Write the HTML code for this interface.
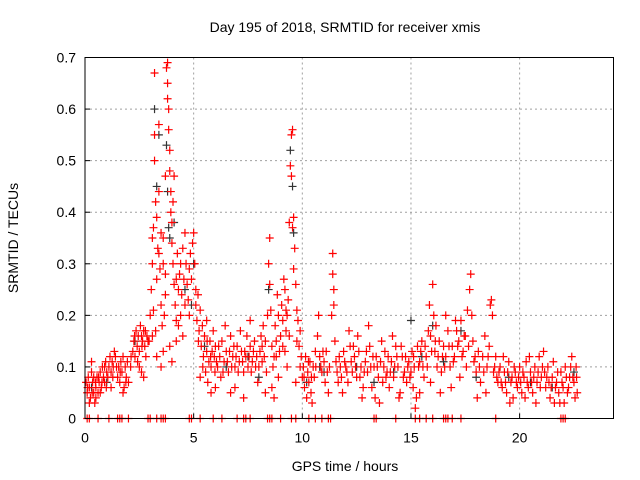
<!DOCTYPE html>
<html><head><meta charset="utf-8"><style>
html,body{margin:0;padding:0;background:#fff;}
svg{display:block;font-family:"Liberation Sans",sans-serif;}
</style></head><body>
<svg id="chart" width="640" height="480" viewBox="0 0 640 480">
<rect x="0" y="0" width="640" height="480" fill="#fff"/>
<text x="345" y="32" font-size="14" text-anchor="middle" fill="#000">Day 195 of 2018, SRMTID for receiver xmis</text>
<text x="345" y="471" font-size="14" text-anchor="middle" fill="#000">GPS time / hours</text>
<text transform="translate(18,238) rotate(-90)" font-size="14" text-anchor="middle" fill="#000">SRMTID / TECUs</text>
<g id="grid"></g>
<g id="black"></g>
<g id="red"></g>
<g id="axes"></g>
</svg>
<script>
const xTicks = [0, 5, 10, 15, 20];
const yTicks = [0, 0.1, 0.2, 0.3, 0.4, 0.5, 0.6, 0.7];
const yTickLabels = ["0", "0.1", "0.2", "0.3", "0.4", "0.5", "0.6", "0.7"];
const xDomain = [0, 24.32];
const yDomain = [0, 0.7];

const redZeroTimes = [0.1,0.2,0.6,1.1,1.5,1.6,1.7,2.0,2.9,3.0,3.3,3.5,3.6,3.7,4.8,4.9,5.3,5.9,6.3,7.0,7.3,7.4,7.6,8.4,8.5,8.6,9.0,9.5,9.7,10.3,10.6,10.9,11.2,11.3,13.3,13.4,14.3,15.2,15.4,15.7,16.0,16.5,16.6,16.7,16.9,17.3,18.9,21.9,22.0,22.1];

const redPoints = [
[0.05,0.07],[0.1,0.05],[0.15,0.08],[0.2,0.06],[0.25,0.04],[0.3,0.09],[0.35,0.07],[0.4,0.05],[0.45,0.03],[0.5,0.06],[0.55,0.08],[0.6,0.05],[0.65,0.07],[0.7,0.09],[0.75,0.06],[0.8,0.1],[0.85,0.08],[0.9,0.07],[0.95,0.11],[1.0,0.09],[1.05,0.08],[1.1,0.1],[1.15,0.12],[1.2,0.09],[1.25,0.11],[1.3,0.1],[1.35,0.13],[1.4,0.12],[1.5,0.08],[1.55,0.1],[1.6,0.07],[1.65,0.11],[1.7,0.09],[1.75,0.12],[1.8,0.06],[1.85,0.1],[1.9,0.08],[1.95,0.11],[2.0,0.07],[0.2,0.03],[0.4,0.08],[0.3,0.11],[0.5,0.04],[0.7,0.05],[0.9,0.1],[1.2,0.06],[1.45,0.1],[1.75,0.05],
[2.1,0.1],[2.2,0.13],[2.25,0.15],[2.3,0.12],[2.35,0.17],[2.4,0.14],[2.45,0.16],[2.5,0.13],[2.55,0.18],[2.6,0.16],[2.65,0.15],[2.7,0.17],[2.75,0.14],[2.8,0.12],[2.85,0.16],[2.9,0.15],[2.6,0.09],[2.5,0.1],[2.7,0.08],
[3.0,0.2],[3.05,0.25],[3.1,0.3],[3.1,0.35],[3.15,0.37],[3.2,0.67],[3.2,0.55],[3.2,0.5],[3.25,0.42],[3.3,0.39],[3.3,0.27],[3.35,0.33],[3.4,0.44],[3.4,0.57],[3.45,0.29],[3.5,0.36],[3.5,0.22],[3.55,0.18],[3.6,0.3],[3.6,0.13],[3.65,0.2],[3.7,0.24],[3.7,0.47],[3.75,0.68],[3.8,0.65],[3.8,0.69],[3.8,0.62],[3.85,0.6],[3.85,0.56],[3.9,0.52],[3.9,0.48],[3.95,0.44],[3.95,0.4],[4.0,0.38],[4.0,0.34],[4.05,0.3],[4.1,0.47],[4.1,0.26],[4.15,0.22],[4.2,0.27],[4.2,0.19],[4.25,0.32],[4.3,0.25],[4.35,0.28],[4.4,0.3],[4.45,0.24],[4.5,0.33],[4.55,0.27],[4.6,0.22],[4.6,0.36],[4.65,0.3],[4.7,0.26],[4.75,0.23],[4.8,0.29],[4.85,0.32],[4.9,0.27],[4.95,0.34],[5.0,0.36],[5.05,0.3],[5.1,0.25],[3.1,0.16],[3.3,0.12],[3.5,0.1],[3.9,0.14],[4.0,0.11],[4.2,0.15],[4.4,0.2],[3.15,0.21],[3.25,0.17],[3.4,0.32],[3.6,0.35],[3.7,0.28],[4.05,0.42],[4.3,0.18],[4.5,0.16],[4.8,0.2],
[5.1,0.22],[5.15,0.19],[5.2,0.24],[5.25,0.17],[5.3,0.21],[5.35,0.14],[5.4,0.18],[5.45,0.12],[5.5,0.16],[5.55,0.09],[5.6,0.13],[5.65,0.07],[5.7,0.11],[5.75,0.15],[5.8,0.1],[5.85,0.13],[5.9,0.17],[5.95,0.12],[6.0,0.14],[6.1,0.1],[6.2,0.12],[6.25,0.08],[6.3,0.15],[6.4,0.11],[6.5,0.13],[6.6,0.09],[6.7,0.16],[6.8,0.12],[6.9,0.1],[7.0,0.14],[7.1,0.11],[7.2,0.13],[7.3,0.09],[7.4,0.12],[7.5,0.1],[7.6,0.14],[7.7,0.11],[7.8,0.15],[7.9,0.12],[8.0,0.1],[5.3,0.08],[5.6,0.19],[6.0,0.06],[6.45,0.18],[6.9,0.06],[7.3,0.04],[7.6,0.19],[7.95,0.07],[5.8,0.05],[6.7,0.05],[7.15,0.17],[7.45,0.16],
[8.05,0.13],[8.1,0.16],[8.15,0.11],[8.2,0.18],[8.3,0.15],[8.35,0.09],[8.4,0.2],[8.45,0.3],[8.5,0.35],[8.5,0.26],[8.55,0.21],[8.6,0.14],[8.6,0.06],[8.7,0.12],[8.75,0.18],[8.8,0.15],[8.85,0.24],[8.9,0.2],[8.95,0.13],[9.0,0.16],[9.05,0.22],[9.1,0.19],[9.15,0.27],[9.2,0.25],[9.25,0.17],[9.3,0.2],[9.35,0.23],[9.4,0.38],[9.45,0.49],[9.5,0.55],[9.5,0.47],[9.55,0.56],[9.55,0.37],[9.6,0.39],[9.6,0.29],[9.65,0.33],[9.7,0.26],[9.75,0.21],[9.8,0.19],[9.85,0.14],[9.9,0.17],[9.95,0.12],[8.3,0.05],[8.9,0.08],[9.3,0.1],[9.7,0.07],[8.7,0.04],[9.2,0.13],
[10.0,0.08],[10.05,0.1],[10.1,0.06],[10.15,0.12],[10.2,0.04],[10.25,0.09],[10.3,0.07],[10.35,0.11],[10.4,0.05],[10.5,0.1],[10.55,0.08],[10.6,0.13],[10.7,0.16],[10.75,0.2],[10.8,0.12],[10.9,0.09],[11.0,0.11],[11.05,0.07],[11.1,0.13],[11.2,0.05],[11.25,0.1],[11.35,0.2],[11.4,0.32],[11.4,0.28],[11.45,0.25],[11.45,0.22],[11.5,0.15],[11.6,0.09],[11.7,0.12],[11.8,0.08],[11.9,0.13],[12.0,0.1],[12.1,0.07],[12.2,0.14],[12.3,0.09],[12.4,0.12],[12.5,0.08],[12.6,0.13],[12.7,0.1],[12.8,0.06],[12.9,0.11],[13.0,0.09],[13.1,0.14],[13.2,0.06],[13.3,0.1],[13.35,0.04],[13.4,0.12],[13.5,0.08],[13.6,0.11],[13.7,0.07],[13.8,0.13],[13.9,0.09],[14.0,0.06],[14.1,0.11],[14.2,0.08],[14.3,0.14],[14.4,0.1],[14.5,0.05],[14.6,0.12],[14.7,0.09],[14.8,0.07],[14.9,0.11],[12.15,0.17],[12.55,0.16],[13.05,0.18],[13.65,0.15],[14.15,0.16],[14.55,0.14],[10.45,0.03],[11.85,0.05],[12.75,0.04],[13.55,0.03],[14.45,0.04],
[15.0,0.09],[15.05,0.13],[15.1,0.06],[15.15,0.1],[15.2,0.02],[15.25,0.04],[15.3,0.14],[15.4,0.11],[15.5,0.15],[15.6,0.08],[15.7,0.12],[15.8,0.17],[15.85,0.22],[15.9,0.16],[16.0,0.26],[16.05,0.2],[16.1,0.13],[16.2,0.1],[16.3,0.15],[16.4,0.09],[16.5,0.14],[16.6,0.12],[16.7,0.17],[16.8,0.1],[16.9,0.14],[17.0,0.12],[17.1,0.17],[17.2,0.15],[17.3,0.19],[17.4,0.13],[17.5,0.16],[17.6,0.21],[17.7,0.25],[17.75,0.28],[17.8,0.2],[17.85,0.15],[17.9,0.11],[18.0,0.09],[18.1,0.13],[18.2,0.07],[18.3,0.12],[18.4,0.16],[18.5,0.1],[18.6,0.14],[18.65,0.22],[18.7,0.23],[18.75,0.2],[18.8,0.09],[18.9,0.12],[19.0,0.07],[15.4,0.05],[15.9,0.07],[16.35,0.05],[16.85,0.06],[17.25,0.08],[17.55,0.1],[18.05,0.04],[18.45,0.05],[16.15,0.18],[16.6,0.2],[17.05,0.19],
[19.1,0.1],[19.2,0.06],[19.3,0.09],[19.4,0.05],[19.5,0.11],[19.6,0.07],[19.7,0.04],[19.8,0.09],[19.9,0.06],[20.0,0.1],[20.1,0.05],[20.2,0.08],[20.3,0.11],[20.4,0.06],[20.5,0.09],[20.6,0.05],[20.7,0.1],[20.8,0.07],[20.9,0.12],[21.0,0.08],[21.1,0.13],[21.2,0.06],[21.3,0.1],[21.4,0.04],[21.5,0.08],[21.6,0.03],[21.7,0.07],[21.8,0.05],[21.9,0.09],[22.0,0.06],[22.1,0.1],[22.2,0.05],[22.3,0.08],[22.4,0.12],[22.5,0.07],[22.6,0.1],[22.65,0.05],[19.25,0.12],[19.75,0.1],[20.25,0.04],[20.75,0.03],[21.05,0.1],[21.55,0.11],[22.05,0.03],[22.55,0.04],[19.55,0.03],[20.45,0.12],[21.35,0.07],[21.85,0.03]
];

const redPointsExtra = [
[0.12,0.06],[0.33,0.05],[0.48,0.07],[0.62,0.08],[0.78,0.07],[0.98,0.06],[1.28,0.08],[1.62,0.09],[1.88,0.07],[2.12,0.12],[2.28,0.16],[2.42,0.11],[2.62,0.14],[2.78,0.17],[2.95,0.15],
[5.22,0.15],[5.42,0.1],[5.62,0.15],[5.78,0.12],[5.98,0.09],[6.05,0.11],[6.15,0.14],[6.35,0.09],[6.55,0.11],[6.65,0.13],[6.75,0.1],[6.85,0.14],[6.95,0.12],[7.05,0.09],[7.25,0.11],[7.35,0.13],[7.55,0.12],[7.65,0.09],[7.75,0.13],[7.85,0.1],[8.15,0.14],[8.25,0.12],[8.65,0.1],[8.8,0.12],[9.1,0.14],[9.25,0.21],[9.4,0.16],[9.75,0.15],[9.9,0.1],
[10.08,0.08],[10.28,0.11],[10.42,0.08],[10.62,0.1],[10.85,0.1],[10.95,0.13],[11.15,0.09],[11.55,0.11],[11.65,0.07],[11.75,0.1],[11.95,0.11],[12.05,0.09],[12.25,0.11],[12.35,0.14],[12.45,0.1],[12.65,0.08],[12.85,0.09],[12.95,0.13],[13.15,0.1],[13.25,0.12],[13.45,0.1],[13.75,0.1],[13.85,0.08],[13.95,0.12],[14.05,0.09],[14.25,0.1],[14.35,0.12],[14.65,0.08],[14.75,0.12],[14.85,0.1],[14.95,0.08],
[15.12,0.12],[15.35,0.1],[15.45,0.13],[15.55,0.1],[15.65,0.14],[15.75,0.1],[15.95,0.13],[16.12,0.15],[16.25,0.12],[16.45,0.12],[16.55,0.1],[16.75,0.14],[16.95,0.11],[17.15,0.14],[17.35,0.12],[17.45,0.16],[17.65,0.14],[17.95,0.12],[18.15,0.1],[18.35,0.09],[18.55,0.12],[18.85,0.1],[18.95,0.08],
[19.05,0.09],[19.15,0.07],[19.35,0.07],[19.45,0.09],[19.65,0.08],[19.85,0.07],[19.95,0.08],[20.05,0.07],[20.15,0.09],[20.35,0.07],[20.55,0.07],[20.65,0.08],[20.85,0.09],[20.95,0.06],[21.15,0.09],[21.25,0.08],[21.45,0.06],[21.65,0.06],[21.75,0.09],[21.95,0.07],[22.15,0.08],[22.25,0.06],[22.35,0.1],[22.45,0.08],[22.62,0.08]
];

const blackPoints = [
[0.3,0.06],[1.0,0.07],[2.3,0.15],[3.2,0.6],[3.3,0.45],[3.4,0.55],[3.75,0.53],[3.8,0.44],[3.85,0.37],[4.1,0.38],[4.6,0.25],[5.0,0.3],[5.5,0.14],[6.5,0.1],[7.5,0.12],[8.45,0.25],[9.45,0.52],[9.55,0.45],[9.6,0.36],[10.2,0.07],[11.0,0.09],[12.5,0.1],[13.3,0.07],[14.2,0.09],[15.0,0.19],[15.5,0.12],[16.0,0.18],[16.5,0.11],[17.3,0.17],[18.0,0.08],[19.5,0.08],[20.5,0.07],[21.5,0.06],[22.5,0.09],[3.9,0.35],[4.9,0.22],[8.0,0.08],[10.8,0.1]
];

const NS = "http://www.w3.org/2000/svg";
const L = 85, R = 613.5, T = 57.5, B = 418.5;
function xs(t){ return L + (t - xDomain[0]) / (xDomain[1] - xDomain[0]) * (R - L); }
function ys(v){ return B - (v - yDomain[0]) / (yDomain[1] - yDomain[0]) * (B - T); }
function mk(tag, attrs, parent){ const e = document.createElementNS(NS, tag); for (const k in attrs) e.setAttribute(k, attrs[k]); parent.appendChild(e); return e; }

const grid = document.getElementById('grid');
const axes = document.getElementById('axes');
xTicks.forEach(t => {
  if (t > 0) {
    const g = mk('line', {x1: xs(t), x2: xs(t), y1: T, y2: B, stroke: '#a0a0a0', 'stroke-dasharray': '2,3', 'stroke-width': 1}, grid);
    
    
  }
  const tk = mk('line', {x1: xs(t), x2: xs(t), y1: B, y2: B - 5, stroke: '#000'}, axes);
  
  
  const tx = mk('text', {x: xs(t), y: B + 24, 'font-size': 14, 'text-anchor': 'middle'}, axes);
  tx.textContent = String(t);
  
  
});
yTicks.forEach((v, i) => {
  if (v > 0 && v < 0.7) {
    const g = mk('line', {x1: L, x2: R, y1: ys(v), y2: ys(v), stroke: '#a0a0a0', 'stroke-dasharray': '2,3', 'stroke-width': 1}, grid);
    
    
  }
  const tk = mk('line', {x1: L, x2: L + 5, y1: ys(v), y2: ys(v), stroke: '#000'}, axes);
  
  
  const tx = mk('text', {x: L - 9, y: ys(v) + 5, 'font-size': 14, 'text-anchor': 'end'}, axes);
  tx.textContent = yTickLabels[i];
  
  
});
const frame = mk('rect', {x: L, y: T, width: R - L, height: B - T, fill: 'none', stroke: '#000', 'stroke-width': 1}, axes);



function plus(parent, t, v, color, name){
  const x = xs(t), y = ys(v);
  const p = mk('path', {d: `M${x-4},${y}H${x+4}M${x},${y-4}V${y+4}`, stroke: color, 'stroke-width': 1.2, fill: 'none'}, parent);
  
  
}
const bg = document.getElementById('black');
blackPoints.forEach(p => plus(bg, p[0], p[1], '#333', 'black-point'));
const rg = document.getElementById('red');
redPoints.forEach(p => plus(rg, p[0], p[1], '#ff0000', 'red-point'));
redPointsExtra.forEach(p => plus(rg, p[0], p[1], '#ff0000', 'red-point'));
redZeroTimes.forEach(t => plus(rg, t, 0, '#ff0000', 'red-zero-point'));
</script>
</body></html>
